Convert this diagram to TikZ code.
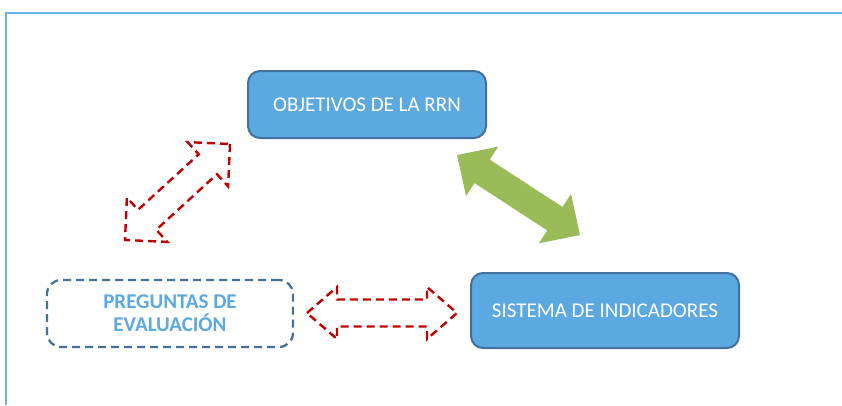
\documentclass[tikz,border=0pt]{standalone}
\usepackage{fontspec}
\setmainfont{Carlito}
\usepackage{tikz}
\usetikzlibrary{calc}

\definecolor{boxblue}{HTML}{5BA9E0}
\definecolor{boxline}{HTML}{41719C}
\definecolor{frameblue}{HTML}{6CB4E6}
\definecolor{arrgreen}{HTML}{9BBB59}
\definecolor{arrred}{HTML}{C00000}

% double arrow outline: [style]{from}{to}{half shaft}{half head}{head length}
\newcommand{\dblarrow}[6][]{%
	\coordinate (q1) at ($(#2)!#6!(#3)$);
	\coordinate (q2) at ($(#3)!#6!(#2)$);
	\draw[#1] (#2) -- ($(q1)!#5!90:(#3)$) -- ($(q1)!#4!90:(#3)$)
		-- ($(q2)!#4!-90:(#2)$) -- ($(q2)!#5!-90:(#2)$) -- (#3)
		-- ($(q2)!#5!90:(#2)$) -- ($(q2)!#4!90:(#2)$)
		-- ($(q1)!#4!-90:(#3)$) -- ($(q1)!#5!-90:(#3)$) -- cycle;
}

\begin{document}
\begin{tikzpicture}[x=1pt,y=-1pt]
	\useasboundingbox (0,0) rectangle (842,405);
	\draw[frameblue, line width=2pt] (6,405) -- (6,12.5) -- (842,12.5);
	\begin{scope}[every node/.style={rounded corners=12pt, align=center, line width=2pt,
			font=\fontsize{21}{23}\selectfont}]
		\node[fill=boxblue, draw=boxline, text=white, minimum width=238pt,
			minimum height=67pt] (obj) at (367,104.5) {OBJETIVOS DE LA RRN};
		\node[fill=boxblue, draw=boxline, text=white, minimum width=268pt,
			minimum height=75pt] (sis) at (605,310.5) {SISTEMA DE INDICADORES};
		\node[draw=boxline, line width=2.3pt, dash pattern=on 8pt off 5pt, text=boxblue,
			font=\fontsize{21}{23}\selectfont\bfseries, minimum width=246pt,
			minimum height=67pt, rounded corners=14pt] (preg) at (170,313.5) {PREGUNTAS DE\\EVALUACIÓN};
	\end{scope}
	\begin{scope}[every path/.style={line width=2.4pt}]
		\coordinate (g1) at (457,155);
		\coordinate (g2) at (580,235);
		\coordinate (r1) at (230,144);
		\coordinate (r2) at (125,240);
		\coordinate (h1) at (307,313);
		\coordinate (h2) at (457,313);
		\dblarrow[fill=arrgreen, draw=none]{g1}{g2}{14pt}{29.5pt}{30pt}
		\dblarrow[draw=arrred, dash pattern=on 8pt off 5pt]{r1}{r2}{13.5pt}{30pt}{30pt}
		\dblarrow[draw=arrred, dash pattern=on 8pt off 5pt]{h1}{h2}{13.5pt}{26pt}{30pt}
	\end{scope}
\end{tikzpicture}
\end{document}
